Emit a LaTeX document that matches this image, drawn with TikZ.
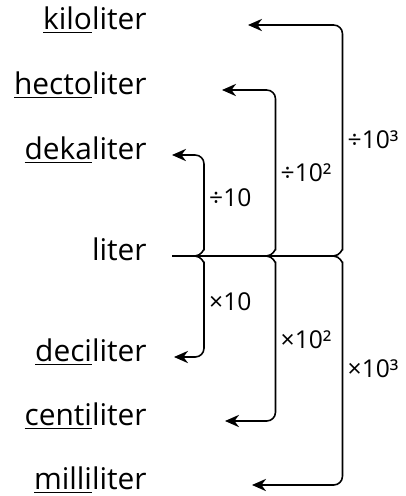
\documentclass[tikz,border=0pt]{standalone}
\usepackage{fontspec}
\setmainfont{Open Sans}
\usetikzlibrary{arrows.meta,calc}
\tikzset{
	unit/.style={font=\fontsize{17}{20}\selectfont, anchor=mid east, inner sep=0pt},
	factor/.style={font=\fontsize{14}{16}\selectfont, right, inner sep=2.5pt},
	conv/.style={line width=0.9pt, rounded corners=5pt, -{Stealth[length=8pt,width=7pt]}},
	litline/.style={line width=0.9pt}
}

\begin{document}
\begin{tikzpicture}
	\useasboundingbox (0,0) rectangle (8.12,-9.92);
	% unit names
	\node[unit] (kilo) at (2.94,-0.5) {\underline{kilo}liter};
	\node[unit] (hecto) at (2.94,-1.8) {\underline{hecto}liter};
	\node[unit] (deka) at (2.94,-3.1) {\underline{deka}liter};
	\node[unit] (liter) at (2.94,-5.12) {liter};
	\node[unit] (deci) at (2.94,-7.14) {\underline{deci}liter};
	\node[unit] (centi) at (2.94,-8.42) {\underline{centi}liter};
	\node[unit] (milli) at (2.94,-9.7) {\underline{milli}liter};
	% where the brackets meet the liter line
	\coordinate (litstart) at ($(liter.mid east)+(0.5,0)$);
	\coordinate (jA) at ($(liter.mid east)+(0.96,0)$);
	\coordinate (jB) at ($(liter.mid east)+(2.39,0)$);
	\coordinate (jC) at ($(liter.mid east)+(3.73,0)$);
	\coordinate (kilotip) at ($(kilo.mid east)+(2.02,0)$);
	\coordinate (hectotip) at ($(hecto.mid east)+(1.5,0)$);
	\coordinate (dekatip) at ($(deka.mid east)+(0.5,0)$);
	\coordinate (decitip) at ($(deci.mid east)+(0.54,0)$);
	\coordinate (centitip) at ($(centi.mid east)+(1.56,0)$);
	\coordinate (millitip) at ($(milli.mid east)+(2.1,0)$);
	\draw[litline] (litstart) -- (jC);
	% larger units
	\draw[conv] (jA) to[out=0,in=-90] ++(0.18,0.3) |- node[factor,pos=0.25] {÷10} (dekatip);
	\draw[conv] (jB) to[out=0,in=-90] ++(0.18,0.3) |- node[factor,pos=0.227] {÷10²} (hectotip);
	\draw[conv] (jC) to[out=0,in=-90] ++(0.18,0.3) |- node[factor,pos=0.235] {÷10³} (kilotip);
	% smaller units
	\draw[conv] (jA) to[out=0,in=90] ++(0.18,-0.3) |- node[factor,pos=0.18] {×10} (decitip);
	\draw[conv] (jB) to[out=0,in=90] ++(0.18,-0.3) |- node[factor,pos=0.23] {×10²} (centitip);
	\draw[conv] (jC) to[out=0,in=90] ++(0.18,-0.3) |- node[factor,pos=0.228] {×10³} (millitip);
\end{tikzpicture}
\end{document}
